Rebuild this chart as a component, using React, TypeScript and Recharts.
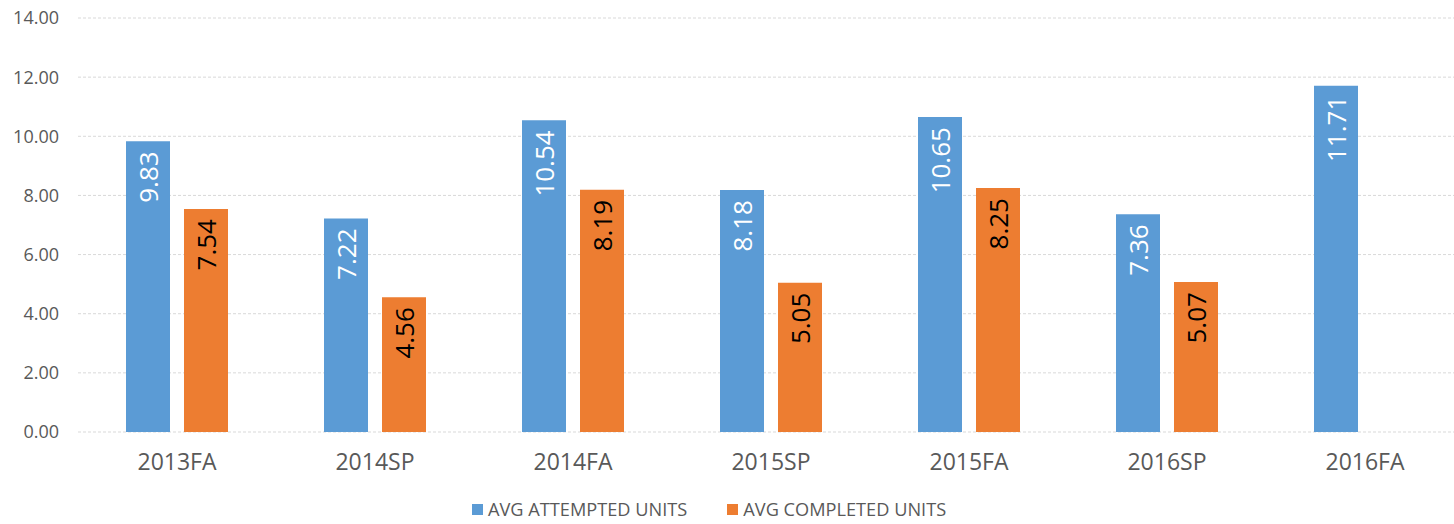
import { Bar, BarChart, CartesianGrid, LabelList, Legend, XAxis, YAxis } from 'recharts';

const terms = ['2013FA', '2014SP', '2014FA', '2015SP', '2015FA', '2016SP', '2016FA'];
const attempted = [9.83, 7.22, 10.54, 8.18, 10.65, 7.36, 11.71];
const completed: (number | null)[] = [7.54, 4.56, 8.19, 5.05, 8.25, 5.07, null];
const yTicks = [0, 2, 4, 6, 8, 10, 12, 14];

const BLUE = '#5b9bd5';
const ORANGE = '#ed7d31';
const GREY = '#595959';
const FONT = '"Open Sans", "Noto Sans", sans-serif';

const data = terms.map((term, i) => ({
  term,
  attempted: attempted[i],
  completed: completed[i],
}));

const series = [
  { key: 'attempted', name: 'AVG ATTEMPTED UNITS', color: BLUE, labelColor: '#ffffff' },
  { key: 'completed', name: 'AVG COMPLETED UNITS', color: ORANGE, labelColor: '#000000' },
];

// rotated value label sitting just inside the top of the bar
function rotatedLabel(fill: string) {
  return (props: any) => {
    const { x, y, width, value } = props;
    if (value == null) return null;
    const cx = Number(x) + Number(width) / 2;
    const ty = Number(y) + 10;
    return (
      <text
        x={cx}
        y={ty}
        transform={`rotate(-90 ${cx} ${ty})`}
        textAnchor="end"
        dominantBaseline="central"
        fill={fill}
        fontSize={26}
        fontFamily={FONT}
      >
        {Number(value).toFixed(2)}
      </text>
    );
  };
}

function LegendContent() {
  return (
    <div style={{ display: 'flex', alignItems: 'center', height: 30, fontFamily: FONT, fontSize: 18.2, color: GREY }}>
      {series.map((s, i) => (
        <div key={s.key} style={{ display: 'flex', alignItems: 'center', marginRight: i === 0 ? 40 : 0 }}>
          <span style={{ display: 'inline-block', width: 11, height: 11, background: s.color, marginRight: 5 }} />
          <span>{s.name}</span>
        </div>
      ))}
    </div>
  );
}

export default function App() {
  return (
    <div style={{ position: 'absolute', left: 0, top: 0, width: 1454, height: 524, overflow: 'hidden', background: '#fff' }}>
      <BarChart
        width={1464}
        height={524}
        data={data}
        margin={{ top: 18, right: 0, bottom: 0, left: 0 }}
        barCategoryGap={48}
        barGap={14}
      >
        <CartesianGrid vertical={false} stroke="#d9d9d9" strokeDasharray="3 2" />
        <XAxis
          dataKey="term"
          axisLine={false}
          tickLine={false}
          tickSize={0}
          tickMargin={22}
          height={62}
          interval={0}
          tick={{ fill: GREY, fontSize: 23, fontFamily: FONT }}
        />
        <YAxis
          domain={[0, 14]}
          ticks={yTicks}
          axisLine={false}
          tickLine={false}
          tickSize={0}
          tickMargin={19}
          width={78}
          tickFormatter={(v) => Number(v).toFixed(2)}
          tick={{ fill: GREY, fontSize: 18, fontFamily: FONT }}
        />
        <Legend
          verticalAlign="bottom"
          height={30}
          content={<LegendContent />}
          wrapperStyle={{ left: 472, width: 'auto' }}
        />
        {series.map((s) => (
          <Bar key={s.key} dataKey={s.key} name={s.name} fill={s.color} barSize={44} isAnimationActive={false}>
            <LabelList dataKey={s.key} content={rotatedLabel(s.labelColor)} />
          </Bar>
        ))}
      </BarChart>
    </div>
  );
}
